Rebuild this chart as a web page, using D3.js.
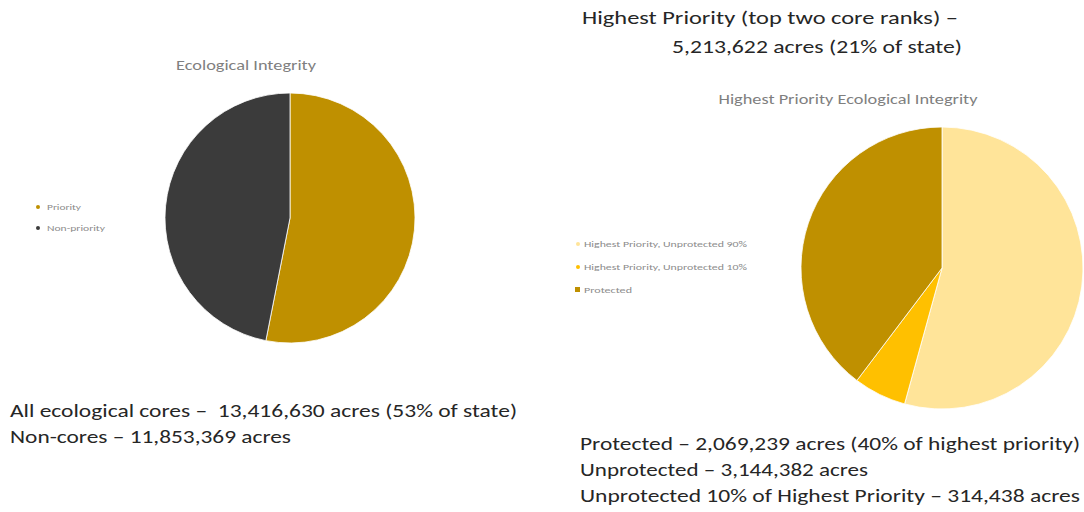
<!DOCTYPE html>
<html>
<head>
<meta charset="utf-8">
<script src="https://cdn.jsdelivr.net/npm/d3@7"></script>
<style>
body{margin:0;background:#fff;}
text{font-family:Carlito,"Liberation Sans","Open Sans",sans-serif;white-space:pre;}
</style>
</head>
<body>
<div id="chart"></div>
<script>
// left pie: all ecological cores
var coreLabels=["Priority","Non-priority"];
var coreValues=[13416630,11853369];
var coreColors=["#BF9000","#3B3B3B"];

// right pie: highest priority cores
var hpLabels=["Highest Priority, Unprotected 90%","Highest Priority, Unprotected 10%","Protected"];
var hpValues=[2829944,314438,2069239];
var hpColors=["#FFE499","#FFC000","#BF9000"];

var notesLeft=["All ecological cores \u2013  13,416,630 acres (53% of state)","Non-cores \u2013 11,853,369 acres"];
var notesTop=["Highest Priority (top two core ranks) \u2013","5,213,622 acres (21% of state)"];
var notesRight=["Protected \u2013 2,069,239 acres (40% of highest priority)","Unprotected \u2013 3,144,382 acres","Unprotected 10% of Highest Priority \u2013 314,438 acres"];

var width=1084,height=512;
var svg=d3.select("#chart").append("svg").attr("width",width).attr("height",height);

function drawPie(cx,cy,r,values,colors){
	var pie=d3.pie().sort(null).value(function(d){return d;});
	var arc=d3.arc().innerRadius(0).outerRadius(r);
	svg.append("g").attr("transform","translate("+cx+","+cy+")")
		.selectAll("path").data(pie(values)).enter().append("path")
		.attr("d",arc)
		.attr("fill",function(d,i){return colors[i];})
		.attr("stroke","#fff")
		.attr("stroke-width",0.8);
}

drawPie(290,218,125,coreValues,coreColors);
drawPie(942,268,141,hpValues,hpColors);

// chart titles
svg.append("text").attr("x",246).attr("y",70).attr("text-anchor","middle")
	.attr("font-size",15).attr("fill","#7f7f7f").attr("textLength",140).attr("lengthAdjust","spacingAndGlyphs").text("Ecological Integrity");
svg.append("text").attr("x",848).attr("y",104).attr("text-anchor","middle")
	.attr("font-size",15).attr("fill","#7f7f7f").attr("textLength",259).attr("lengthAdjust","spacingAndGlyphs").text("Highest Priority Ecological Integrity");

// legends
var legL=svg.append("g");
var legLlen=[34,58];
coreLabels.forEach(function(t,i){
	var y=207+i*21;
	legL.append("circle").attr("cx",38).attr("cy",y).attr("r",2).attr("fill",coreColors[i]);
	legL.append("text").attr("x",47).attr("y",y+3).attr("font-size",9).attr("fill","#8c8c8c")
		.attr("textLength",legLlen[i]).attr("lengthAdjust","spacingAndGlyphs").text(t);
});
var legR=svg.append("g");
var legRlen=[163,163,48];
hpLabels.forEach(function(t,i){
	var y=244+i*23;
	if(i<2) legR.append("circle").attr("cx",578).attr("cy",y).attr("r",2).attr("fill",hpColors[i]);
	else legR.append("rect").attr("x",575).attr("y",y-3).attr("width",5).attr("height",5).attr("fill",hpColors[i]);
	legR.append("text").attr("x",584).attr("y",y+3).attr("font-size",9).attr("fill","#8c8c8c")
		.attr("textLength",legRlen[i]).attr("lengthAdjust","spacingAndGlyphs").text(t);
});

// notes
function note(x,y,t,len){
	svg.append("text").attr("x",x).attr("y",y).attr("font-size",18).attr("fill","#262626")
		.attr("textLength",len).attr("lengthAdjust","spacingAndGlyphs").text(t);
}
note(10,417,notesLeft[0],507);
note(10,443,notesLeft[1],281);
note(582,24,notesTop[0],376);
note(672,53,notesTop[1],290);
note(580,450,notesRight[0],500);
note(580,476,notesRight[1],288);
note(580,502,notesRight[2],500);
</script>
</body>
</html>
